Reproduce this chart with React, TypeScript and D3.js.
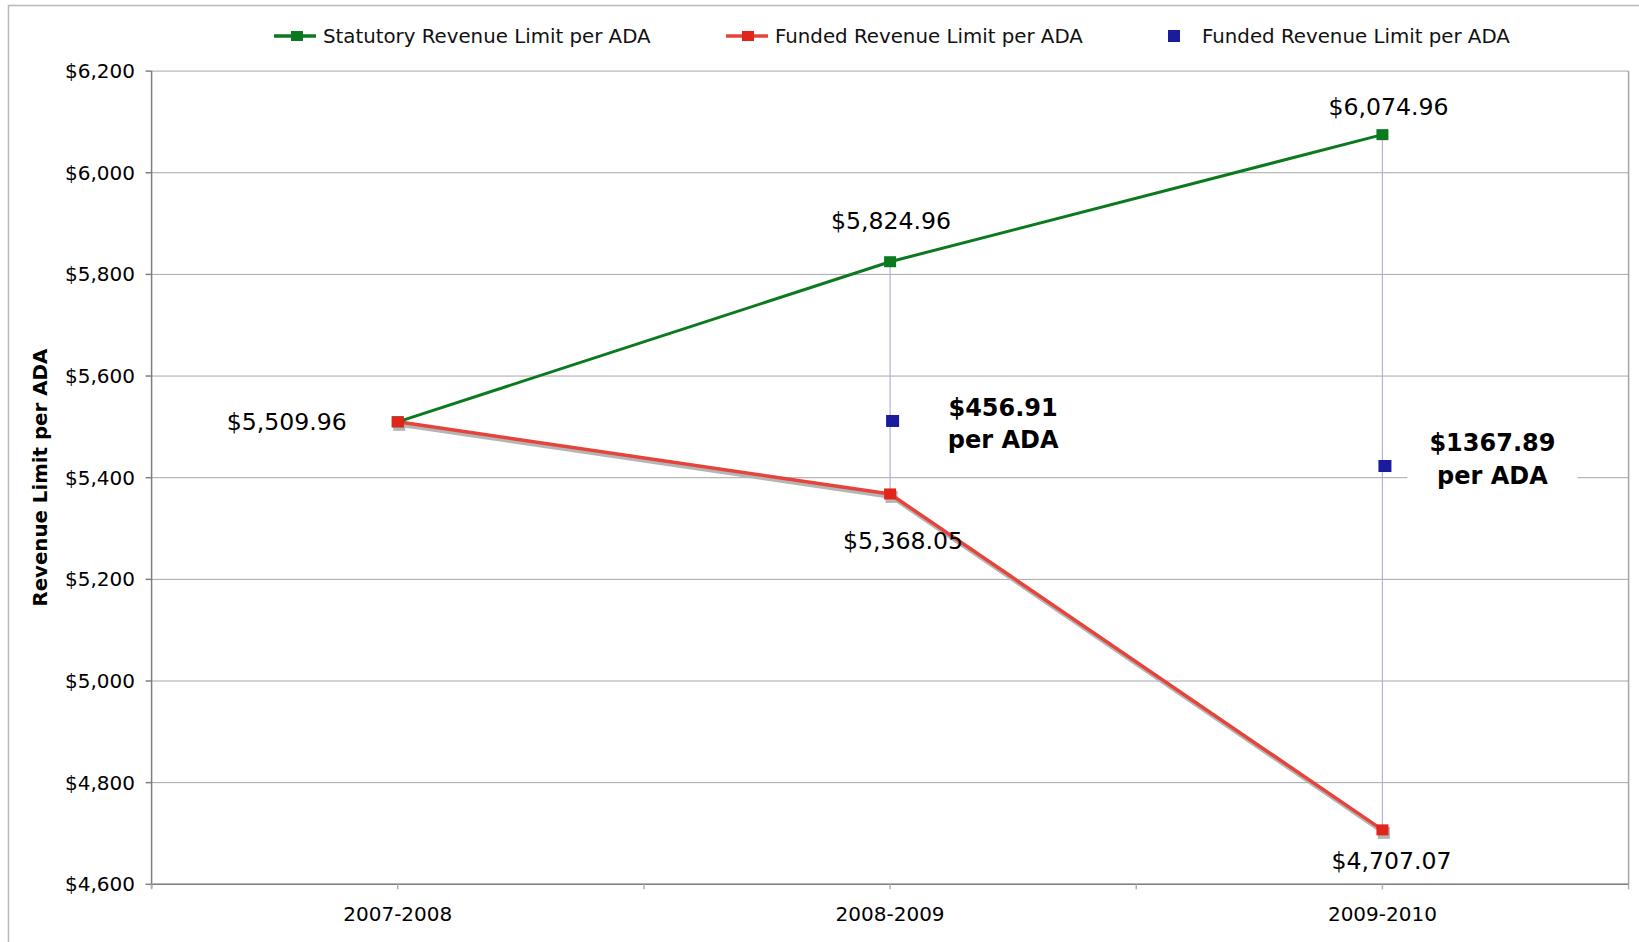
import * as d3 from 'd3';

const years = ['2007-2008', '2008-2009', '2009-2010'];
const statutory = [5509.96, 5824.96, 6074.96];
const funded = [5509.96, 5368.05, 4707.07];
const gapPoints = [null, 5511.6, 5423];
const gapLabels = [null, ['$456.91', 'per ADA'], ['$1367.89', 'per ADA']];
const yTicks = [4600, 4800, 5000, 5200, 5400, 5600, 5800, 6000, 6200];

const W = 1639;
const H = 942;
const left = 151.6;
const right = 1628.6;
const top = 71.1;
const bottom = 884.3;
const font = 'DejaVu Sans, Verdana, sans-serif';

const green = '#0b7a1f';
const redLine = '#e6443a';
const redMark = '#e2251b';
const blue = '#1b1b9d';

// hand placed value labels, offsets from their points (like the original)
const statLabelOff = [null, [1, -41], [6, -28]];
const fundLabelOff = [[-111, 0], [13, 46.5], [9, 31]];

export default function App() {
  const x = d3.scalePoint<string>().domain(years).range([left, right]).padding(0.5);
  const step = x.step();
  const y = d3.scaleLinear().domain([4600, 6200]).range([bottom, top]);
  const line = d3
    .line<number>()
    .x((_, i) => x(years[i]) as number)
    .y((d) => y(d));
  const fmt = (v: number) => '$' + d3.format(',.2f')(v);
  const xTicks = d3.range(0, 7).map((i) => left + (i * step) / 2);

  return (
    <svg width={W} height={H} style={{ position: 'absolute', left: 0, top: 0, background: '#fff' }} fontFamily={font}>
      <rect x={8.5} y={5.5} width={W + 10} height={H + 10} fill="none" stroke="#b8b8b8" strokeWidth={1.5} />

      {/* gridlines */}
      {yTicks.map((t) => (
        <line key={t} x1={left} x2={right} y1={y(t)} y2={y(t)} stroke="#a6a6a6" strokeWidth={1} />
      ))}
      <line x1={right} x2={right} y1={top} y2={bottom} stroke="#a6a6a6" strokeWidth={1.5} />

      {/* y axis */}
      <line x1={left} x2={left} y1={top} y2={bottom + 4} stroke="#7f7f7f" strokeWidth={1.5} />
      {yTicks.map((t) => (
        <g key={'t' + t}>
          <line x1={left - 6} x2={left} y1={y(t)} y2={y(t)} stroke="#7f7f7f" strokeWidth={1.5} />
          <text x={135} y={y(t)} dy="0.35em" textAnchor="end" fontSize={20} fill="#000">
            {'$' + d3.format(',')(t)}
          </text>
        </g>
      ))}

      {/* x axis */}
      <line x1={left} x2={right} y1={bottom} y2={bottom} stroke="#7f7f7f" strokeWidth={1.5} />
      {xTicks.map((t, i) => (
        <line key={i} x1={t} x2={t} y1={bottom} y2={bottom + 5} stroke="#b0b0b0" strokeWidth={1.5} />
      ))}
      {years.map((c) => (
        <text key={c} x={x(c)} y={914} dy="0.35em" textAnchor="middle" fontSize={20} fill="#000">
          {c}
        </text>
      ))}

      <text
        transform={`translate(40,${(top + bottom) / 2}) rotate(-90)`}
        textAnchor="middle"
        dy="0.35em"
        fontSize={19.8}
        fontWeight="bold"
        fill="#000"
      >
        Revenue Limit per ADA
      </text>

      {/* high-low lines */}
      {years.map((c, i) =>
        i === 0 ? null : (
          <line key={'hl' + c} x1={x(c)} x2={x(c)} y1={y(statutory[i])} y2={y(funded[i])} stroke="#b2b2d6" strokeWidth={1.2} />
        )
      )}

      {/* funded shadow */}
      <path d={line(funded) || ''} transform="translate(1.5,3)" fill="none" stroke="#b5b5b5" strokeWidth={4} />
      {funded.map((v, i) => (
        <rect key={'fs' + i} x={(x(years[i]) as number) - 6 + 1.5} y={y(v) - 6 + 3} width={12} height={12} fill="#b5b5b5" />
      ))}

      <path d={line(funded) || ''} fill="none" stroke={redLine} strokeWidth={3.5} />
      <path d={line(statutory) || ''} fill="none" stroke={green} strokeWidth={3} />

      {statutory.map((v, i) => (
        <rect key={'s' + i} x={(x(years[i]) as number) - 6} y={y(v) - 5.5} width={12} height={11} fill={green} />
      ))}
      {funded.map((v, i) => (
        <rect key={'f' + i} x={(x(years[i]) as number) - 6} y={y(v) - 5.5} width={12} height={11} fill={redMark} />
      ))}
      {gapPoints.map((v, i) =>
        v === null ? null : (
          <rect key={'g' + i} x={(x(years[i]) as number) - 4} y={y(v) - 6} width={13} height={12} fill={blue} />
        )
      )}

      {/* value labels */}
      {statutory.map((v, i) => {
        const o = statLabelOff[i];
        if (!o) return null;
        return (
          <text key={'sl' + i} x={(x(years[i]) as number) + o[0]} y={y(v) + o[1]} dy="0.35em" textAnchor="middle" fontSize={23.6} fill="#000">
            {fmt(v)}
          </text>
        );
      })}
      {funded.map((v, i) => {
        const o = fundLabelOff[i];
        return (
          <text key={'fl' + i} x={(x(years[i]) as number) + o[0]} y={y(v) + o[1]} dy="0.35em" textAnchor="middle" fontSize={23.6} fill="#000">
            {fmt(v)}
          </text>
        );
      })}

      {/* gap annotations */}
      {gapLabels.map((lab, i) => {
        if (!lab) return null;
        const cx = (x(years[i]) as number) + (i === 1 ? 113 : 110);
        const cy = i === 1 ? 423.5 : 459;
        return (
          <g key={'ga' + i}>
            <rect x={cx - 85} y={cy - 34} width={170} height={68} fill="#fff" />
            <text x={cx} y={cy - 16} dy="0.35em" textAnchor="middle" fontSize={24} fontWeight="bold" fill="#000">
              {lab[0]}
            </text>
            <text x={cx} y={cy + 16.5} dy="0.35em" textAnchor="middle" fontSize={24} fontWeight="bold" fill="#000">
              {lab[1]}
            </text>
          </g>
        );
      })}

      {/* legend */}
      <g fontSize={19.8} fill="#111">
        <line x1={274} x2={316} y1={36} y2={36} stroke={green} strokeWidth={3.5} />
        <rect x={291} y={31} width={12} height={10} fill={green} />
        <text x={323} y={36} dy="0.35em">Statutory Revenue Limit per ADA</text>

        <line x1={726} x2={768} y1={36} y2={36} stroke={redLine} strokeWidth={3.5} />
        <rect x={742} y={31} width={12} height={10} fill={redMark} />
        <text x={775} y={36} dy="0.35em">Funded Revenue Limit per ADA</text>

        <rect x={1168} y={30} width={12} height={12} fill={blue} />
        <text x={1202} y={36} dy="0.35em">Funded Revenue Limit per ADA</text>
      </g>
    </svg>
  );
}
